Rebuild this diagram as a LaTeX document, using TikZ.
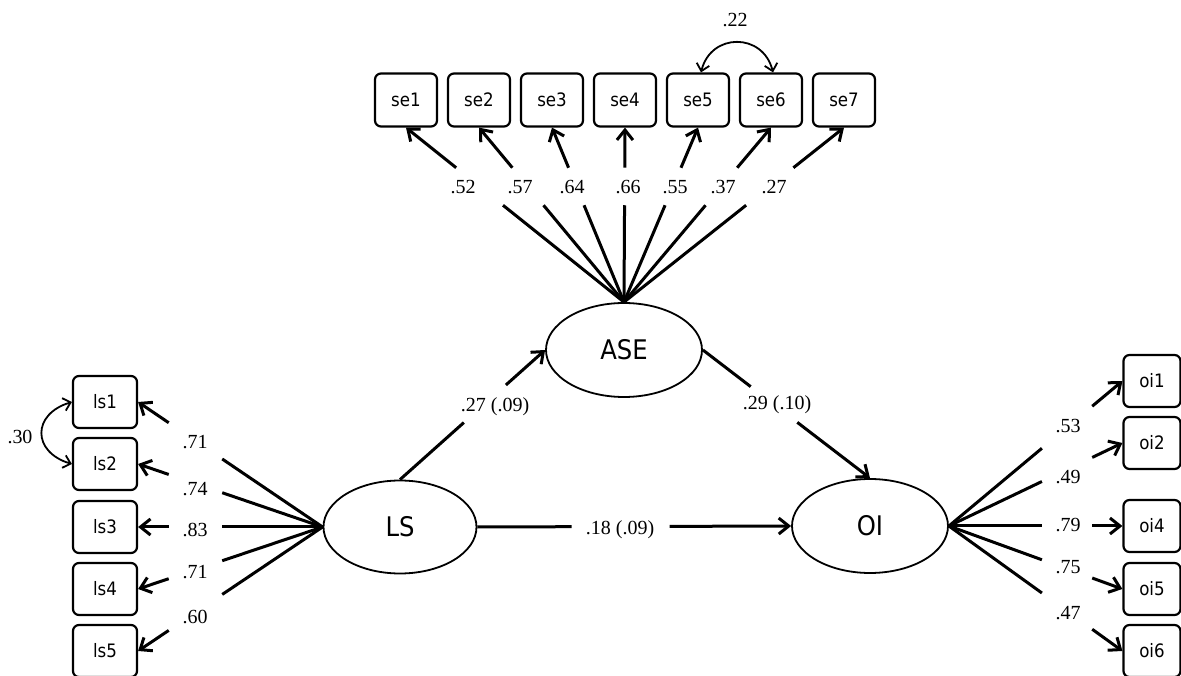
\documentclass[tikz,border=0pt]{standalone}
\usepackage{fontspec}
\setmainfont{Liberation Serif}
\newfontfamily\sansbox{DejaVu Sans}[FakeStretch=0.9]
\usetikzlibrary{arrows.meta,shapes.geometric}
\tikzset{
 obs/.style={draw, rounded corners=6pt, line width=2.2pt, minimum width=62pt, minimum height=53pt, inner sep=0pt, font=\sansbox\fontsize{18.5}{21}\selectfont},
 lat/.style={draw, ellipse, line width=1.8pt, inner sep=0pt, minimum width=156pt, minimum height=94pt, font=\sansbox\fontsize{27}{31}\selectfont},
 conn/.style={line width=3pt},
 arr/.style={line width=3pt, -{Straight Barb[length=10pt,width=16pt]}},
 cov/.style={line width=1.8pt, {Straight Barb[length=7pt,width=13pt]}-{Straight Barb[length=7pt,width=13pt]}},
 lab/.style={font=\fontsize{20}{23}\selectfont, inner sep=0pt},
}
\newcommand\gapline[5]{%
 \path (#1) -- (#2) coordinate[pos=#3] (#5a) coordinate[pos=#4] (#5b);
 \draw[conn] (#1) -- (#5a);
 \draw[arr] (#5b) -- (#2);
}
\begin{document}
\begin{tikzpicture}[x=1pt,y=1pt]
\useasboundingbox (0,0) rectangle (1181,675);
% latent variables
\node[lat] (ASE) at (624,325) {ASE};
\node[lat, minimum width=153pt, minimum height=93pt] (LS) at (400,148) {LS};
\node[lat] (OI) at (870,149) {OI};
% indicators
\foreach \i/\x in {1/406,2/479,3/552,4/625,5/698,6/771,7/844}
  \node[obs] (se\i) at (\x,575) {se\i};
\foreach \i/\y in {1/273,2/211,3/148,4/86,5/24}
  \node[obs, minimum width=64pt, minimum height=52pt] (ls\i) at (105,\y) {ls\i};
\foreach \i/\y in {1/294,2/232,4/149,5/86,6/24}
  \node[obs, minimum width=57pt, minimum height=52pt] (oi\i) at (1152,\y) {oi\i};
% loadings
\foreach \i in {1,...,7}
  {\gapline{ASE.north}{se\i.south}{0.555}{0.77}{s\i}}
\foreach \i in {1,...,5}
  {\gapline{LS.west}{ls\i.east}{0.544}{0.834}{l\i}}
\foreach \i in {1,2,4,5,6}
  {\gapline{OI.east}{oi\i.west}{0.536}{0.826}{o\i}}
% structural paths
\gapline{LS.north}{ASE.west}{0.44}{0.73}{p1}
\gapline{ASE.east}{OI.north}{0.286}{0.565}{p2}
\gapline{LS.east}{OI.west}{0.30}{0.613}{p3}
% covariances
\draw[cov] ([xshift=3pt]se5.north) .. controls +(10,40) and +(-10,40) .. ([xshift=2pt]se6.north);
\draw[cov] (ls1.west) .. controls +(-40,-12) and +(-40,12) .. (ls2.west);
% labels
\foreach \t/\x in {.52/463,.57/520,.64/572,.66/628,.55/675,.37/723,.27/774}
  \node[lab] (lse\x) at (\x,488) {\t};
\foreach \t/\y in {.71/233,.74/186,.83/145,.71/103,.60/58}
  \node[lab] (lls\y) at (195,\y) {\t};
\foreach \t/\y in {.53/249,.49/198,.79/150,.75/108,.47/62}
  \node[lab] (loi\y) at (1068,\y) {\t};
\node[lab] (lp1) at (495,268) {.27 (.09)};
\node[lab] (lp2) at (777,270) {.29 (.10)};
\node[lab] (lp3) at (620,145) {.18 (.09)};
\node[lab] (lc1) at (20,238) {.30};
\node[lab] (lc2) at (735,655) {.22};
\end{tikzpicture}
\end{document}
